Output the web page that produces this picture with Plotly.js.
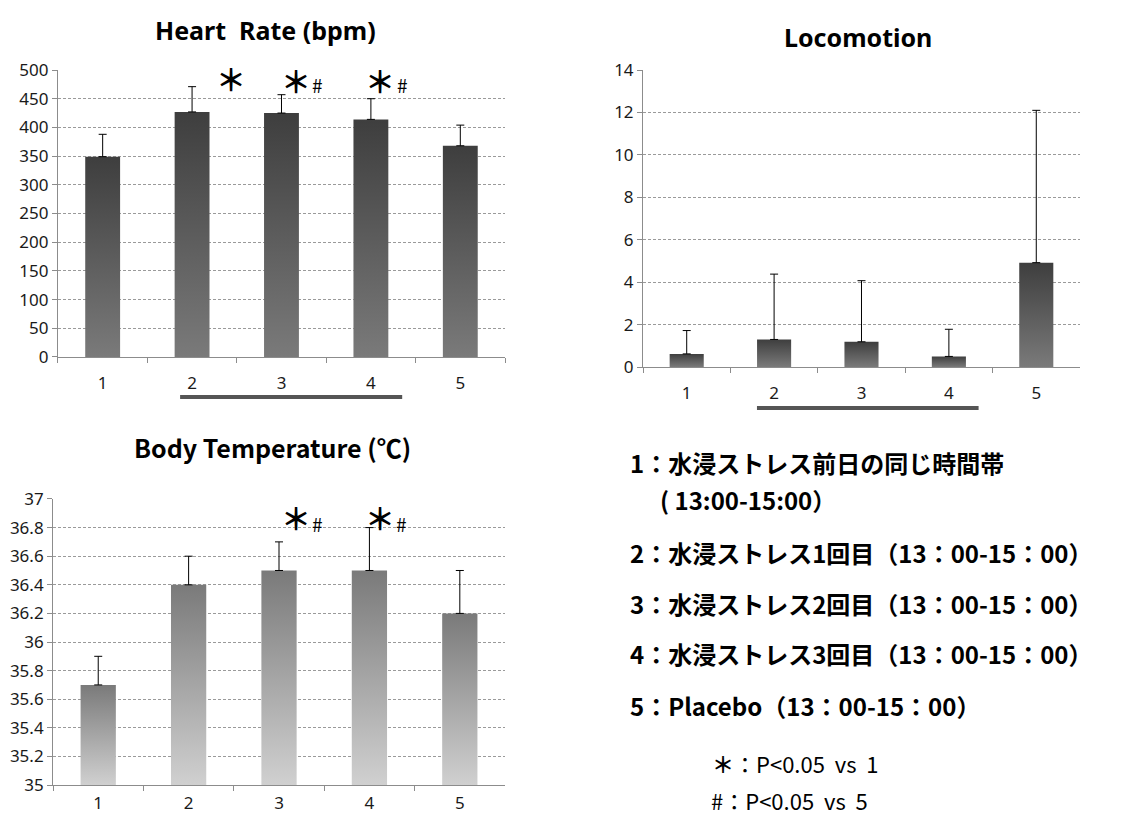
<!DOCTYPE html>
<html><head><meta charset="utf-8">
<script src="https://cdn.plot.ly/plotly-3.0.1.min.js"></script>
<style>html,body{margin:0;padding:0;background:#fff}#chart{width:1121px;height:818px}</style>
</head><body><div id="chart"></div>
<script>
// ---- data ----
const categories = ["1", "2", "3", "4", "5"];
const heartRate = [349, 427, 425, 414, 368];
const heartRateSD = [39, 44, 32, 36, 36];
const locomotion = [0.62, 1.30, 1.19, 0.50, 4.92];
const locomotionSD = [1.10, 3.08, 2.88, 1.28, 7.18];
const bodyTemp = [35.7, 36.4, 36.5, 36.5, 36.2];
const bodyTempSD = [0.2, 0.2, 0.2, 0.3, 0.3];
const bodyTempAxisMin = 35;

const titles = ["Heart  Rate (bpm)", "Locomotion", "Body Temperature (℃)"];
const legendLines = [
  "1：水浸ストレス前日の同じ時間帯",
  "( 13:00-15:00）",
  "2：水浸ストレス1回目（13：00-15：00）",
  "3：水浸ストレス2回目（13：00-15：00）",
  "4：水浸ストレス3回目（13：00-15：00）",
  "5：Placebo（13：00-15：00）"
];
const noteLines = ["<b>＊</b>：P<0.05  vs  1", "#：P<0.05  vs  5"];

// ---- styling ----
const LAT = "'Noto Sans', 'Open Sans', sans-serif";
const JP = "'Noto Sans CJK JP', 'Noto Sans', sans-serif";
const zeros = categories.map(() => 0);

function barTrace(y, sd, xa, ya, color, base) {
  const t = {
    type: 'bar', x: categories, y: y, xaxis: xa, yaxis: ya,
    width: 0.39,
    marker: {color: color, line: {width: 0}},
    error_y: {type: 'data', symmetric: false, array: sd, arrayminus: zeros,
              color: '#000', thickness: 1, width: 4},
    hoverinfo: 'skip', showlegend: false
  };
  if (base !== undefined) t.base = base;
  return t;
}

const data = [
  barTrace(heartRate, heartRateSD, 'x', 'y', '#5a5a5a'),
  barTrace(locomotion, locomotionSD, 'x2', 'y2', '#5a5a5a'),
  barTrace(bodyTemp.map(v => v - bodyTempAxisMin), bodyTempSD, 'x3', 'y3', '#a0a0a0', bodyTempAxisMin)
];

function xAxis(domain, anchor, standoff) {
  return {domain: domain, anchor: anchor, type: 'category', showline: true, linecolor: '#8c8c8c',
    ticks: 'outside', tickson: 'boundaries', ticklen: 5, tickcolor: '#8c8c8c', showgrid: false,
    tickfont: {family: LAT, size: 17, color: '#1a1a1a'}, ticklabelstandoff: standoff, fixedrange: true};
}
function yAxis(domain, anchor, range, dtick) {
  return {domain: domain, anchor: anchor, range: range, dtick: dtick, tick0: range[0],
    showline: true, linecolor: '#8c8c8c', ticks: 'outside', ticklen: 5, tickcolor: '#8c8c8c',
    showgrid: true, gridcolor: '#9a9a9a', gridwidth: 1, griddash: '3px,2px', zeroline: false,
    tickfont: {family: LAT, size: 17, color: '#1a1a1a'}, fixedrange: true};
}

const annotations = [];
function addText(text, x, y, size, bold, opts) {
  annotations.push(Object.assign({
    text: bold ? '<b>' + text + '</b>' : text, x: x, y: y, xref: 'paper', yref: 'paper',
    xanchor: 'left', yanchor: 'middle', showarrow: false,
    font: {family: JP, size: size, color: '#000'}
  }, opts || {}));
}
// titles
addText(titles[0], 0.2364, 0.9633, 25, true, {xanchor: 'center', font: {family: LAT, size: 25, color: '#000'}});
addText(titles[1], 0.7654, 0.9548, 25, true, {xanchor: 'center', font: {family: LAT, size: 25, color: '#000'}});
addText(titles[2], 0.2435, 0.4535, 25, true, {xanchor: 'center', font: {family: JP, size: 25, color: '#000'}});
// legend block
const legendX = [0.5602, 0.587, 0.5602, 0.5602, 0.5602, 0.5602];
const legendY = [0.434, 0.3888, 0.324, 0.2628, 0.2017, 0.1381];
legendLines.forEach((t, i) => addText(t, legendX[i], legendY[i], 24, true));
addText(noteLines[0], 0.6334, 0.0672, 22, false);
addText(noteLines[1], 0.6334, 0.0225, 22, false, {borderpad: 0});

// significance marks (data coordinates)
function mark(text, x, y, xa, ya, size) {
  annotations.push({text: text, x: x, y: y, xref: xa, yref: ya, showarrow: false,
    xanchor: 'center', yanchor: 'middle', font: {family: JP, size: size, color: '#000'}});
}
const STAR = '<b>＊</b>';
mark(STAR, 1.435, 486, 'x', 'y', 30);
mark(STAR, 2.162, 483, 'x', 'y', 30);
mark('#', 2.408, 474, 'x', 'y', 19);
mark(STAR, 3.102, 483, 'x', 'y', 30);
mark('#', 3.348, 474, 'x', 'y', 19);
mark(STAR, 2.188, 36.874, 'x3', 'y3', 30);
mark('#', 2.431, 36.83, 'x3', 'y3', 19);
mark(STAR, 3.117, 36.874, 'x3', 'y3', 30);
mark('#', 3.36, 36.83, 'x3', 'y3', 19);

const shapes = [
  {type: 'line', xref: 'x', yref: 'paper', x0: 0.866, x1: 3.35, y0: 0.5147, y1: 0.5147,
   line: {color: '#555', width: 4}},
  {type: 'line', xref: 'x2', yref: 'paper', x0: 0.804, x1: 3.34, y0: 0.5012, y1: 0.5012,
   line: {color: '#555', width: 4}}
];

const layout = {
  width: 1121, height: 818, margin: {l: 0, r: 0, t: 0, b: 0},
  paper_bgcolor: '#fff', plot_bgcolor: '#fff', showlegend: false, bargap: 0.6,
  xaxis: xAxis([0.0517, 0.4505], 'y', 11),
  yaxis: yAxis([0.5636, 0.9144], 'x', [0, 500], 50),
  xaxis2: xAxis([0.5736, 0.9634], 'y2', 11),
  yaxis2: yAxis([0.5513, 0.9144], 'x2', [0, 14], 2),
  xaxis3: xAxis([0.0473, 0.4505], 'y3', 3),
  yaxis3: yAxis([0.0403, 0.39], 'x3', [35, 37], 0.2),
  annotations: annotations, shapes: shapes
};

Plotly.newPlot('chart', data, layout, {staticPlot: true, displayModeBar: false}).then(gd => {
  const ns = 'http://www.w3.org/2000/svg';
  const svg = gd.querySelector('.main-svg');
  let defs = svg.querySelector('defs');
  if (!defs) { defs = document.createElementNS(ns, 'defs'); svg.insertBefore(defs, svg.firstChild); }
  function grad(id, top, bottom) {
    const g = document.createElementNS(ns, 'linearGradient');
    g.setAttribute('id', id); g.setAttribute('x1', '0'); g.setAttribute('y1', '0');
    g.setAttribute('x2', '0'); g.setAttribute('y2', '1');
    [[0, top], [1, bottom]].forEach(([o, c]) => {
      const s = document.createElementNS(ns, 'stop');
      s.setAttribute('offset', o); s.setAttribute('stop-color', c); g.appendChild(s);
    });
    defs.appendChild(g);
  }
  grad('gDark', '#3e3e3e', '#7a7a7a');
  grad('gLight', '#7a7a7a', '#d0d0d0');
  [['xy', 'gDark'], ['x2y2', 'gDark'], ['x3y3', 'gLight']].forEach(([sp, id]) => {
    gd.querySelectorAll('.subplot.' + sp + ' .trace.bars .point path').forEach(p => {
      p.style.fill = 'url(#' + id + ')';
    });
  });
});
</script>
</body></html>
